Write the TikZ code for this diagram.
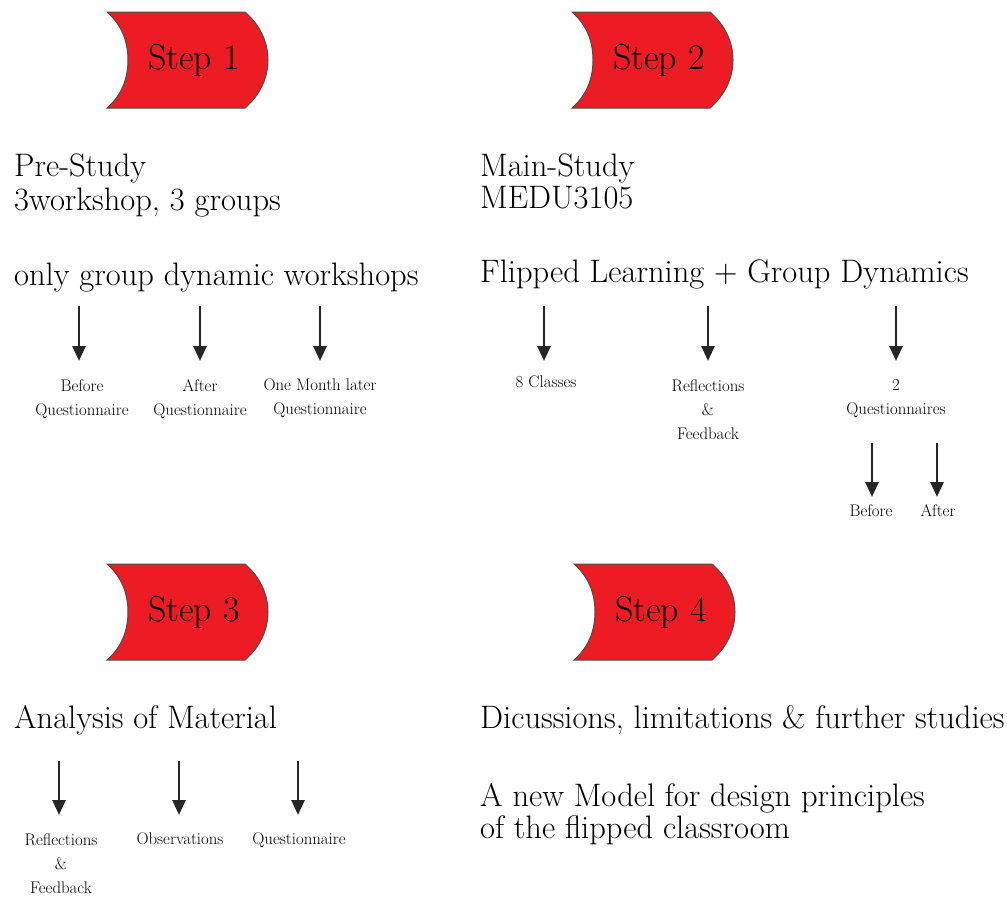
\documentclass[tikz,border=0pt]{standalone}
\usepackage{fontspec}
\usetikzlibrary{arrows.meta}
\usetikzlibrary{positioning}
\definecolor{stepred}{RGB}{237,28,36}
\tikzstyle{head} = [anchor=base west, inner sep=0pt, font=\fontsize{32.5}{36}\selectfont]
\tikzstyle{item} = [anchor=north, inner sep=0pt, align=center, font=\fontsize{16.8}{24}\selectfont]
\tikzstyle{down} = [-{Triangle[width=13pt,length=15pt]}, line width=2.6pt, black!85]
\tikzstyle{stepbox} = [draw=black!70, line width=1pt, fill=stepred]
\tikzstyle{steptext} = [font=\fontsize{36}{40}\selectfont]

% red step arrow: centre x, centre y, name, text
\newcommand{\stepshape}[4]{%
  \draw[stepbox, shift={(#1,#2)}] (-81,-48) -- (57,-48)
    .. controls (72,-35) and (80,-18) .. (80,0)
    .. controls (80,18) and (72,35) .. (57,48)
    -- (-81,48)
    .. controls (-66,35) and (-60,18) .. (-60,0)
    .. controls (-60,-18) and (-66,-35) .. (-81,-48) -- cycle;
  \node[steptext] (#3) at (#1+6,#2) {#4};}

\begin{document}
\begin{tikzpicture}[x=1pt, y=-1pt]
\useasboundingbox (0,0) rectangle (1007,898);

\stepshape{188}{60}{step1}{Step 1}
\stepshape{653}{60}{step2}{Step 2}
\stepshape{188}{612}{step3}{Step 3}
\stepshape{655}{612}{step4}{Step 4}

% step 1
\node[head] (pre) at (14,176) {Pre-Study};
\node[head] (pre2) at (14,210) {3workshop, 3 groups};
\node[head] (only) at (14,285) {only group dynamic workshops};
\node[item] (before) at (82,379) {Before\\Questionnaire};
\node[item] (after) at (200,379) {After\\Questionnaire};
\node[item] (month) at (320,379) {One Month later\\Questionnaire};
\coordinate (a1) at (79,306);
\coordinate (a2) at (200,306);
\coordinate (a3) at (320,306);
\draw[down, shorten >=18pt] (a1) -- (a1 |- before.north);
\draw[down, shorten >=18pt] (a2) -- (a2 |- after.north);
\draw[down, shorten >=18pt] (a3) -- (a3 |- month.north);

% step 2
\node[head] (main) at (480,176) {Main-Study};
\node[head] (medu) at (480,208) {MEDU3105};
\node[head] (flip) at (480,282) {Flipped Learning + Group Dynamics};
\node[item] (classes) at (546,376) {8 Classes};
\node[item] (refl) at (708,379) {Reflections\\\&\\Feedback};
\node[item] (quest) at (896,379) {2\\Questionnaires};
\node[item] (qbefore) at (871,504) {Before};
\node[item] (qafter) at (938,504) {After};
\coordinate (b1) at (544,306);
\coordinate (b2) at (708,306);
\coordinate (b3) at (896,306);
\coordinate (c1) at (872,443);
\coordinate (c2) at (937,443);
\draw[down, shorten >=15pt] (b1) -- (b1 |- classes.north);
\draw[down, shorten >=18pt] (b2) -- (b2 |- refl.north);
\draw[down, shorten >=18pt] (b3) -- (b3 |- quest.north);
\draw[down, shorten >=7pt] (c1) -- (c1 |- qbefore.north);
\draw[down, shorten >=7pt] (c2) -- (c2 |- qafter.north);

% step 3
\node[head] (anal) at (14,728) {Analysis of Material};
\node[item] (refl3) at (61,833) {Reflections\\\&\\Feedback};
\node[item] (obs) at (180,833) {Observations};
\node[item] (quest3) at (299,833) {Questionnaire};
\coordinate (d1) at (59,761);
\coordinate (d2) at (179,761);
\coordinate (d3) at (298,761);
\draw[down, shorten >=18pt] (d1) -- (d1 |- refl3.north);
\draw[down, shorten >=18pt] (d2) -- (d2 |- obs.north);
\draw[down, shorten >=18pt] (d3) -- (d3 |- quest3.north);

% step 4
\node[head] (disc) at (480,728) {Dicussions, limitations \& further studies};
\node[head] (model) at (480,806) {A new Model for design principles};
\node[head] (model2) at (480,838) {of the flipped classroom};

\end{tikzpicture}
\end{document}
